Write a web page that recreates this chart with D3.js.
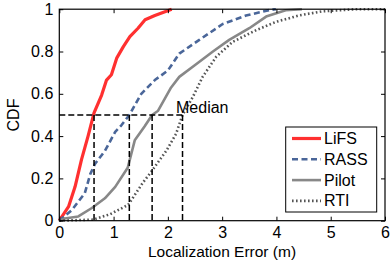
<!DOCTYPE html>
<html>
<head>
<meta charset="utf-8">
<script src="https://cdn.jsdelivr.net/npm/d3@7"></script>
<style>
body { margin: 0; background: #fff; }
text { font-family: "Liberation Sans", Arial, sans-serif; }
</style>
</head>
<body>
<div id="viz"></div>
<script>
"use strict";

// CDF curves: [error (m), cdf]
var lifs = [[0,0],[0.17,0.066],[0.29,0.16],[0.41,0.29],[0.53,0.4],[0.64,0.51],[0.78,0.594],[0.87,0.665],
	[0.96,0.69],[1.06,0.77],[1.18,0.823],[1.3,0.87],[1.45,0.91],[1.58,0.95],[1.76,0.97],[2.07,1]];
var rass = [[0,0],[0.23,0.05],[0.47,0.13],[0.57,0.22],[0.66,0.27],[0.84,0.33],[1.03,0.42],[1.14,0.45],[1.29,0.5],
	[1.51,0.6],[1.76,0.665],[2.0,0.71],[2.21,0.79],[2.58,0.855],[3.01,0.93],[3.44,0.97],[3.87,0.996],[3.99,1]];
var pilot = [[0,0],[0.1,0.01],[0.35,0.02],[0.6,0.06],[0.84,0.106],[1.03,0.16],[1.26,0.25],[1.39,0.38],[1.57,0.445],
	[1.71,0.5],[1.82,0.52],[2.06,0.63],[2.21,0.68],[2.52,0.74],[2.83,0.8],[3.13,0.855],[3.5,0.91],
	[3.81,0.965],[4.17,0.995],[4.47,1]];
var rti = [[0,0],[0.62,0.005],[0.93,0.03],[1.27,0.075],[1.54,0.18],[1.69,0.23],[1.97,0.33],[2.15,0.41],
	[2.27,0.5],[2.46,0.585],[2.64,0.68],[2.89,0.775],[3.19,0.845],[3.62,0.9],[3.99,0.94],[4.41,0.97],
	[4.84,0.99],[5.46,1],[6,1]];

var seriesNames = ["LiFS", "RASS", "Pilot", "RTI"];
var medians = [0.64, 1.29, 1.71, 2.27];
var xTicks = [0, 1, 2, 3, 4, 5, 6];
var yTicks = [0, 0.2, 0.4, 0.6, 0.8, 1];

var styles = {
	LiFS: {color: "#ff3030", width: 3.2, dash: null},
	RASS: {color: "#4a6699", width: 2.6, dash: "6,3.5"},
	Pilot: {color: "#888888", width: 2.6, dash: null},
	RTI: {color: "#555555", width: 2.6, dash: "1.6,2.4"}
};
var allData = {LiFS: lifs, RASS: rass, Pilot: pilot, RTI: rti};

var W = 390, H = 263,
	plotLeft = 59.3, plotRight = 385, plotTop = 9.2, plotBottom = 220.7,
	fontSize = "16px";

var svg = d3.select("#viz").append("svg")
	.attr("width", W)
	.attr("height", H);

var x = d3.scaleLinear().domain([0, 6]).range([plotLeft, plotRight]);
var y = d3.scaleLinear().domain([0, 1]).range([plotBottom, plotTop]);

var line = d3.line()
	.x(function(d){ return x(d[0]) })
	.y(function(d){ return y(d[1]) });

// curves
seriesNames.forEach(function(name){
	var s = styles[name];
	svg.append("path")
		.attr("d", line(allData[name]))
		.attr("fill", "none")
		.attr("stroke", s.color)
		.attr("stroke-width", s.width)
		.attr("stroke-dasharray", s.dash)
		.attr("stroke-linejoin", "round");
});

// median guide lines
svg.append("line")
	.attr("x1", x(0)).attr("x2", x(d3.max(medians)))
	.attr("y1", y(0.5)).attr("y2", y(0.5))
	.attr("stroke", "#000").attr("stroke-width", 1.5)
	.attr("stroke-dasharray", "6,3");
svg.selectAll(".med").data(medians).enter().append("line")
	.attr("x1", function(d){ return x(d) }).attr("x2", function(d){ return x(d) })
	.attr("y1", y(0.5)).attr("y2", y(0))
	.attr("stroke", "#000").attr("stroke-width", 1.5)
	.attr("stroke-dasharray", "6,3");
svg.append("text")
	.attr("x", 176).attr("y", 113)
	.attr("font-size", fontSize)
	.text("Median");

// axes box with inside ticks
var tickLen = 4;
var axB = svg.append("g").attr("transform", "translate(0," + plotBottom + ")")
	.call(d3.axisBottom(x).tickValues(xTicks).tickSizeInner(-tickLen).tickSizeOuter(0).tickPadding(6)
		.tickFormat(d3.format("d")));
var axT = svg.append("g").attr("transform", "translate(0," + plotTop + ")")
	.call(d3.axisTop(x).tickValues(xTicks).tickSizeInner(-tickLen).tickSizeOuter(0).tickFormat(""));
var axL = svg.append("g").attr("transform", "translate(" + plotLeft + ",0)")
	.call(d3.axisLeft(y).tickValues(yTicks).tickSizeInner(-tickLen).tickSizeOuter(0).tickPadding(6)
		.tickFormat(function(d){ return d === 0 || d === 1 ? d : d3.format(".1f")(d) }));
var axR = svg.append("g").attr("transform", "translate(" + plotRight + ",0)")
	.call(d3.axisRight(y).tickValues(yTicks).tickSizeInner(-tickLen).tickSizeOuter(0).tickFormat(""));

[axB, axT, axL, axR].forEach(function(g){
	g.select(".domain").remove();
	g.selectAll("line").attr("stroke", "#000");
	g.selectAll("text").attr("font-size", fontSize).attr("fill", "#000")
		.attr("font-family", "Liberation Sans, Arial, sans-serif");
});

svg.append("rect")
	.attr("x", plotLeft).attr("y", plotTop)
	.attr("width", plotRight - plotLeft).attr("height", plotBottom - plotTop)
	.attr("fill", "none").attr("stroke", "#000").attr("stroke-width", 1.2);

// axis titles
svg.append("text")
	.attr("x", 222).attr("y", 257)
	.attr("text-anchor", "middle")
	.attr("font-size", "15.5px")
	.text("Localization Error (m)");
svg.append("text")
	.attr("transform", "translate(19,115) rotate(-90)")
	.attr("text-anchor", "middle")
	.attr("font-size", fontSize)
	.text("CDF");

// legend
var legend = svg.append("g");
legend.append("rect")
	.attr("x", 285.7).attr("y", 127)
	.attr("width", 91).attr("height", 85)
	.attr("fill", "#fff").attr("stroke", "#000").attr("stroke-width", 1);
seriesNames.forEach(function(name, i){
	var s = styles[name];
	var ly = 138.5 + i * 20.8;
	legend.append("line")
		.attr("x1", 292).attr("x2", 321)
		.attr("y1", ly).attr("y2", ly)
		.attr("stroke", s.color)
		.attr("stroke-width", s.width)
		.attr("stroke-dasharray", s.dash);
	legend.append("text")
		.attr("x", 324).attr("y", ly + 5.5)
		.attr("font-size", fontSize)
		.text(name);
});
</script>
</body>
</html>
